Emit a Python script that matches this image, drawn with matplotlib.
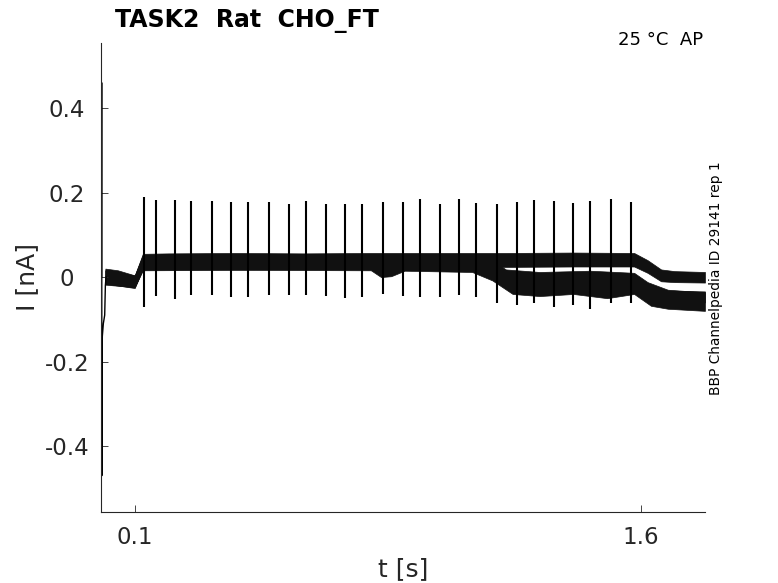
import numpy as np
import matplotlib
matplotlib.use("Agg")
import matplotlib.pyplot as plt

# spike times [s], peak and trough current [nA]
spike_t = [0.127, 0.162, 0.218, 0.268, 0.329, 0.385, 0.435, 0.497, 0.557, 0.607,
           0.666, 0.723, 0.773, 0.835, 0.895, 0.945, 1.004, 1.061, 1.111, 1.173,
           1.232, 1.283, 1.342, 1.399, 1.449, 1.511, 1.571]
spike_peak = [0.189, 0.182, 0.182, 0.181, 0.179, 0.178, 0.178, 0.178, 0.174, 0.179,
              0.174, 0.174, 0.173, 0.178, 0.178, 0.184, 0.174, 0.184, 0.176, 0.174,
              0.178, 0.182, 0.179, 0.176, 0.179, 0.185, 0.178]
spike_trough = [-0.070, -0.045, -0.053, -0.043, -0.042, -0.047, -0.048, -0.043, -0.043, -0.043,
                -0.045, -0.050, -0.048, -0.039, -0.045, -0.048, -0.048, -0.043, -0.048, -0.062,
                -0.066, -0.061, -0.070, -0.066, -0.076, -0.061, -0.061]

# capacitive transient at sweep onset
onset_t = [0.0015, 0.002, 0.0025, 0.003, 0.004, 0.005, 0.007, 0.009, 0.011, 0.013, 0.015]
onset_i = [0.0, 0.46, -0.47, -0.19, -0.14, -0.13, -0.11, -0.10, -0.09, -0.02, 0.0]

# sweep bands: knot times, lower and upper edge [nA]
sweep_a_t = [0.013, 0.05, 0.1, 0.124, 0.2, 0.4, 0.6, 0.8, 1.0, 1.2, 1.4, 1.58, 1.62, 1.66, 1.7, 1.79]
sweep_a_lo = [-0.016, -0.020, -0.026, 0.020, 0.020, 0.021, 0.020, 0.021, 0.022, 0.024, 0.025, 0.025, 0.010, -0.010, -0.012, -0.013]
sweep_a_hi = [0.020, 0.016, 0.004, 0.055, 0.056, 0.057, 0.056, 0.057, 0.057, 0.057, 0.058, 0.057, 0.040, 0.018, 0.014, 0.012]

sweep_b_t = [0.013, 0.1, 0.124, 0.4, 0.8, 0.83, 0.86, 0.9, 1.1, 1.16, 1.22, 1.3, 1.4, 1.5, 1.58, 1.63, 1.68, 1.79]
sweep_b_lo = [-0.018, -0.024, 0.016, 0.017, 0.016, 0.000, 0.002, 0.015, 0.012, -0.008, -0.040, -0.045, -0.040, -0.050, -0.040, -0.068, -0.075, -0.080]
sweep_b_hi = [0.016, 0.004, 0.050, 0.052, 0.052, 0.032, 0.034, 0.052, 0.048, 0.028, 0.002, -0.002, 0.008, -0.008, 0.002, -0.030, -0.032, -0.034]

sweep_c_t = [0.013, 0.1, 0.124, 0.6, 1.0, 1.15, 1.2, 1.3, 1.45, 1.58, 1.62, 1.68, 1.79]
sweep_c_lo = [-0.014, -0.022, 0.018, 0.019, 0.019, 0.012, -0.008, -0.014, -0.012, -0.016, -0.040, -0.055, -0.060]
sweep_c_hi = [0.016, 0.002, 0.052, 0.054, 0.054, 0.045, 0.018, 0.012, 0.015, 0.010, -0.012, -0.030, -0.036]

plt.rcParams['font.family'] = ['DejaVu Sans']

fig = plt.figure(figsize=(7.78, 5.83), dpi=100)
ax = fig.add_axes([0.1298, 0.1218, 0.7763, 0.8045])

for t, lo, hi in [(sweep_a_t, sweep_a_lo, sweep_a_hi),
                  (sweep_b_t, sweep_b_lo, sweep_b_hi),
                  (sweep_c_t, sweep_c_lo, sweep_c_hi)]:
    ax.fill_between(t, lo, hi, color='#111111', linewidth=0.5)

ax.plot(onset_t, onset_i, color='black', linewidth=1.0)
ax.vlines(spike_t, spike_trough, spike_peak, color='black', linewidth=1.5)

ax.set_xlim(0, 1.79)
ax.set_ylim(-0.556, 0.554)
ax.set_xticks([0.1, 1.6])
ax.set_xticklabels(['0.1', '1.6'])
ax.set_yticks([-0.4, -0.2, 0, 0.2, 0.4])
ax.set_yticklabels(['-0.4', '-0.2', '0', '0.2', '0.4'], ha='center')

for side in ['top', 'right']:
    ax.spines[side].set_visible(False)
for side in ['left', 'bottom']:
    ax.spines[side].set_color('#262626')
    ax.spines[side].set_linewidth(0.8)
ax.tick_params(direction='in', length=5, width=0.6, colors='#262626',
               labelsize=16.5, labelcolor='#262626')
ax.tick_params(axis='y', pad=24.5)
ax.tick_params(axis='x', pad=10)

ax.set_xlabel('t [s]', fontsize=18, color='#262626', labelpad=6)
ax.set_ylabel('I [nA]', fontsize=18, color='#262626')
ax.yaxis.set_label_coords(-0.103, 0.5)

fig.text(0.148, 0.953, 'TASK2  Rat  CHO_FT', fontsize=17, fontweight='bold', ha='left', va='baseline')
fig.text(0.904, 0.922, '25 °C  AP', fontsize=13, ha='right', va='baseline')
fig.text(0.9205, 0.523, 'BBP Channelpedia ID 29141 rep 1', fontsize=9.9, rotation=90,
         ha='center', va='center')

fig.savefig('out.png', dpi=100)
